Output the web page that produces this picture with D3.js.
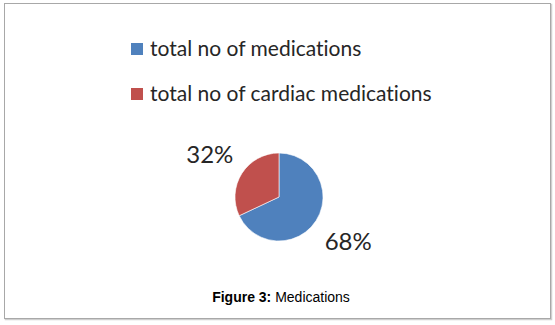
<!DOCTYPE html>
<html>
<head>
<meta charset="utf-8">
<script src="https://cdn.jsdelivr.net/npm/d3@7"></script>
<style>
  html, body { margin: 0; padding: 0; background: #fff; }
  svg { display: block; }
  text { font-variant-ligatures: none; font-feature-settings: "liga" 0, "clig" 0; }
</style>
</head>
<body>
<svg id="chart" width="555" height="325"></svg>
<script>
// Medication shares
const categories = ["total no of medications", "total no of cardiac medications"];
const values = [68, 32];
const sliceLabels = ["68%", "32%"];
const colors = ["#4F81BD", "#C0504D"];

const svg = d3.select("#chart");

// Outer frame with a soft shadow on the right/bottom
svg.append("rect")
  .attr("x", 5.5).attr("y", 4.5).attr("width", 546).attr("height", 315)
  .attr("fill", "none").attr("stroke", "#cfcfcf").attr("stroke-width", 1.5);
svg.append("rect")
  .attr("x", 4.5).attr("y", 3.5).attr("width", 546).attr("height", 315)
  .attr("fill", "#fff").attr("stroke", "#a8a8a8").attr("stroke-width", 1);

// Legend
const legend = svg.append("g").attr("transform", "translate(131,43)");
const item = legend.selectAll("g").data(categories).join("g")
  .attr("transform", (d, i) => `translate(0,${i * 45})`);
item.append("rect")
  .attr("width", 12).attr("height", 12)
  .attr("fill", (d, i) => colors[i]);
item.append("text")
  .attr("x", 19).attr("y", 13)
  .attr("font-family", "Lato, 'Open Sans', sans-serif")
  .attr("font-size", 21)
  .attr("fill", "#262626")
  .text(d => d);

// Pie
const cx = 279, cy = 197, r = 44;
const pie = d3.pie().sort(null).value(d => d)(values);
const arc = d3.arc().innerRadius(0).outerRadius(r);
const g = svg.append("g").attr("transform", `translate(${cx},${cy})`);
g.selectAll("path").data(pie).join("path")
  .attr("d", arc)
  .attr("fill", (d, i) => colors[i])
  .attr("stroke", "#ffffff")
  .attr("stroke-width", 0.6);

// Percentage labels placed just outside each slice
const labelArc = d3.arc().innerRadius(82).outerRadius(82);
g.selectAll("text").data(pie).join("text")
  .attr("transform", d => {
    const [x, y] = labelArc.centroid(d);
    return `translate(${x},${y})`;
  })
  .attr("text-anchor", "middle")
  .attr("dominant-baseline", "central")
  .attr("font-family", "Lato, 'Open Sans', sans-serif")
  .attr("font-size", 24)
  .attr("fill", "#262626")
  .text((d, i) => sliceLabels[i]);

// Caption
const cap = svg.append("text")
  .attr("x", 281).attr("y", 302)
  .attr("text-anchor", "middle")
  .attr("font-family", "'Liberation Sans', Arial, sans-serif")
  .attr("font-size", 14)
  .attr("fill", "#000");
cap.append("tspan").attr("font-weight", "bold").text("Figure 3:");
cap.append("tspan").text(" Medications");
</script>
</body>
</html>
